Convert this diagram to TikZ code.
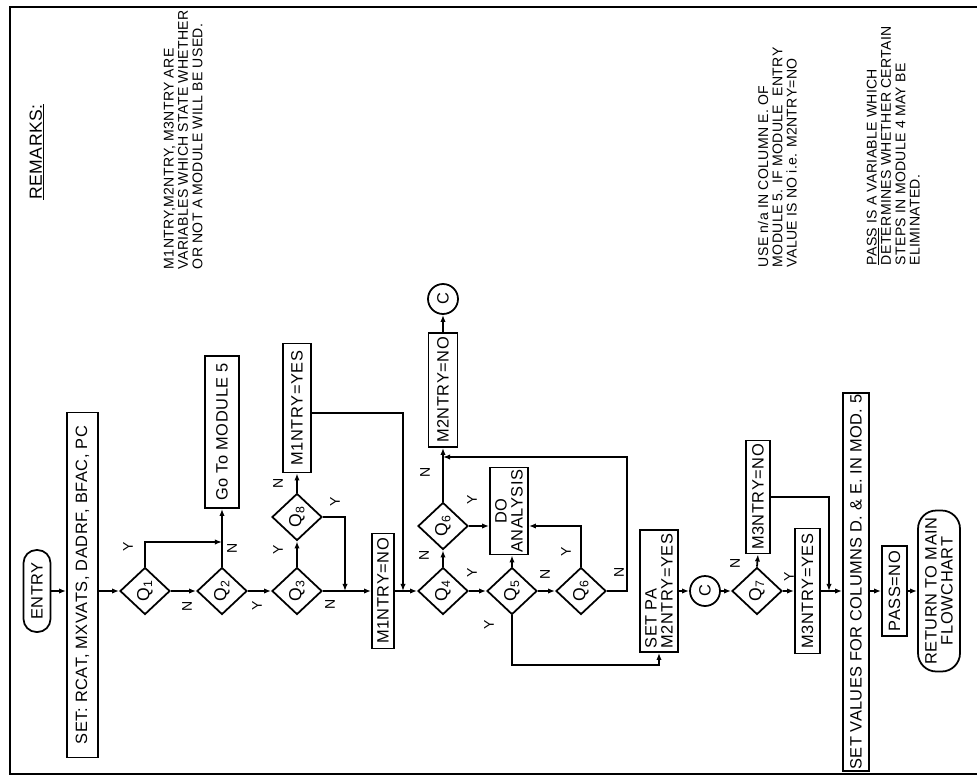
\documentclass[tikz,border=0pt]{standalone}
\usepackage{fontspec}
\setmainfont{Liberation Sans}
\usetikzlibrary{arrows.meta,shapes.geometric}

\begin{document}
\begin{tikzpicture}[x=0.03cm,y=-0.03cm,line width=1.5pt,
  sz/.style 2 args={minimum height=#1*0.03cm,minimum width=#2*0.03cm},
  box/.style={draw,rotate=90,inner sep=0pt,font=\fontsize{14}{13.5}\selectfont\addfontfeature{LetterSpace=3.5}},
  term/.style={box,rounded corners=0.4cm},
  dec/.style={draw,diamond,rotate=90,inner sep=0pt,minimum width=47*0.03cm,minimum height=50*0.03cm,font=\fontsize{15}{15}\selectfont},
  conn/.style={draw,circle,rotate=90,inner sep=0pt,minimum size=30*0.03cm,font=\fontsize{14}{14}\selectfont},
  arr/.style={-{Latex[length=6pt,width=4.5pt]}},
  yn/.style={rotate=90,inner sep=0pt,font=\fontsize{12}{12}\selectfont},
  note/.style={rotate=90,inner sep=0pt,align=left,anchor=north west,font=\fontsize{12}{12.2}\selectfont\addfontfeature{LetterSpace=2.3}}]
  \useasboundingbox (0,0) rectangle (977,777);
  \draw[line width=1.6pt] (977,7) -- (10,7) -- (10,774) -- (977,774);

  % remarks
  \node[rotate=90,inner sep=0pt,font=\fontsize{15}{15}\selectfont\addfontfeature{LetterSpace=3}] (rem) at (37,152) {\underline{REMARKS:}};
  \node[note] (rem1) at (163,270) {M1NTRY,M2NTRY, M3NTRY ARE\\VARIABLES WHICH STATE WHETHER\\OR NOT A MODULE WILL BE USED.};
  \node[note] (rem2) at (757,268) {USE n/a IN COLUMN E. OF\\MODULE 5. IF MODULE \ ENTRY\\VALUE IS NO i.e. M2NTRY=NO};
  \node[note] (rem3) at (866,266) {\underline{PASS} IS A VARIABLE WHICH\\DETERMINES WHETHER CERTAIN\\STEPS IN MODULE 4 MAY BE\\ELIMINATED.};

  % flowchart
  \node[term,sz={27}{82},rounded corners=0.39cm] (entry) at (37,591) {ENTRY};
  \node[box,sz={31}{345}] (setin) at (82.5,585) {SET: RCAT, MXVATS, DADRF, BFAC, PC};
  \node[dec] (q1) at (145,591) {Q\textsubscript{1}};
  \node[dec] (q2) at (222,591) {Q\textsubscript{2}};
  \node[box,sz={34}{152}] (gomod) at (222,432) {Go To MODULE 5};
  \node[dec] (q3) at (297,591) {Q\textsubscript{3}};
  \node[dec] (q8) at (297,517) {Q\textsubscript{8}};
  \node[box,sz={28}{129}] (myes) at (297,408) {M1NTRY=YES};
  \node[box,sz={22}{115}] (mno) at (383,591) {M1NTRY=NO};
  \node[dec] (q4) at (443,591) {Q\textsubscript{4}};
  \node[dec] (q6a) at (443,526) {Q\textsubscript{6}};
  \node[box,sz={29}{114}] (m2no) at (443,390) {M2NTRY=NO};
  \node[conn] (c1) at (443,299) {C};
  \node[box,sz={38}{87},align=center] (doan) at (509,511) {DO\\ANALYSIS};
  \node[dec] (q5) at (512,591) {Q\textsubscript{5}};
  \node[dec] (q6b) at (581,591) {Q\textsubscript{6}};
  \node[box,sz={38}{122},align=left] (setpa) at (659,591) {SET PA\\M2NTRY=YES};
  \node[conn] (c2) at (705,591) {C};
  \node[dec] (q7) at (757,591) {Q\textsubscript{7}};
  \node[box,sz={24}{113}] (m3no) at (758,497) {M3NTRY=NO};
  \node[box,sz={25}{125}] (m3yes) at (807.5,591) {M3NTRY=YES};
  \node[box,sz={26}{378},font=\fontsize{14}{13.5}\selectfont\addfontfeature{LetterSpace=2.2}] (setval) at (856,582) {SET VALUES FOR COLUMNS D. \& E. IN MOD. 5};
  \node[box,sz={25}{90}] (passno) at (894.5,591) {PASS=NO};
  \node[term,sz={42}{161},align=center,rounded corners=0.55cm] (ret) at (939,591) {RETURN TO MAIN\\FLOWCHART};

  \coordinate (j1) at (222,542);
  \coordinate (j2) at (345,591);
  \coordinate (j3) at (403,591);
  \coordinate (j4) at (443,457);
  \coordinate (j5) at (829,591);

  \draw[arr] (entry.south) -- (entry.south -| setin.north);
  \draw[arr] (setin.south |- q1.north) -- (q1.north);
  \draw[arr] (q1.east) |- (j1);
  \draw[arr] (q1.south) -- (q2.north);
  \draw[arr] (q2.east) -- (gomod.west);
  \draw[arr] (q2.south) -- (q3.north);
  \draw[arr] (q3.east) -- (q8.west);
  \draw[arr] (q8.east) -- (myes.west);
  \draw[arr] (q8.south) -| (j2);
  \draw[arr] (q3.south) -- (mno.north);
  \draw[arr] ([yshift=-0.15cm]myes.south) -| (j3);
  \draw[arr] (mno.south) -- (q4.north);
  \draw[arr] (q4.east) -- (q6a.west);
  \draw[arr] (q6a.east) -- (m2no.west);
  \draw[arr] (m2no.east) -- (c1.west);
  \draw[arr] (q6a.south) -- (q6a.south -| doan.north);
  \draw[arr] (q4.south) -- (q5.north);
  \draw[arr] (q5.east) -- (q5.east |- doan.west);
  \draw[arr] (q5.south) -- (q6b.north);
  \draw[arr] (q6b.east) |- (q6a.south -| doan.south);
  \draw[arr] (q6b.south) -- ++(20,0) |- (j4);
  \draw[arr] (q5.west) |- ([yshift=-0.36cm]setpa.west) -- (setpa.west);
  \draw[arr] (setpa.south) -- (c2.north);
  \draw[arr] (c2.south) -- (q7.north);
  \draw[arr] (q7.east) -- (m3no.west);
  \draw[arr] (m3no.south) -| (j5);
  \draw[arr] (q7.south) -- (m3yes.north);
  \draw[arr] (m3yes.south) -- (m3yes.south -| setval.north);
  \draw[arr] (setval.south |- passno.north) -- (passno.north);
  \draw[arr] (passno.south) -- (ret.north);

  % branch labels
  \node[yn] (l1) at (128,547) {Y};
  \node[yn] (l2) at (187,606) {N};
  \node[yn] (l3) at (232,548) {N};
  \node[yn] (l4) at (257,606) {Y};
  \node[yn] (l5) at (278,550) {Y};
  \node[yn] (l6) at (278,483) {N};
  \node[yn] (l7) at (335,502) {Y};
  \node[yn] (l8) at (330,604) {N};
  \node[yn] (l9) at (424,555) {N};
  \node[yn] (l10) at (425,472) {N};
  \node[yn] (l11) at (472,500) {Y};
  \node[yn] (l12) at (472,573) {Y};
  \node[yn] (l13) at (545,574) {N};
  \node[yn] (l14) at (566,552) {Y};
  \node[yn] (l15) at (619,572) {N};
  \node[yn] (l16) at (489,625) {Y};
  \node[yn] (l17) at (735,563) {N};
  \node[yn] (l18) at (789,577) {Y};
\end{tikzpicture}
\end{document}
